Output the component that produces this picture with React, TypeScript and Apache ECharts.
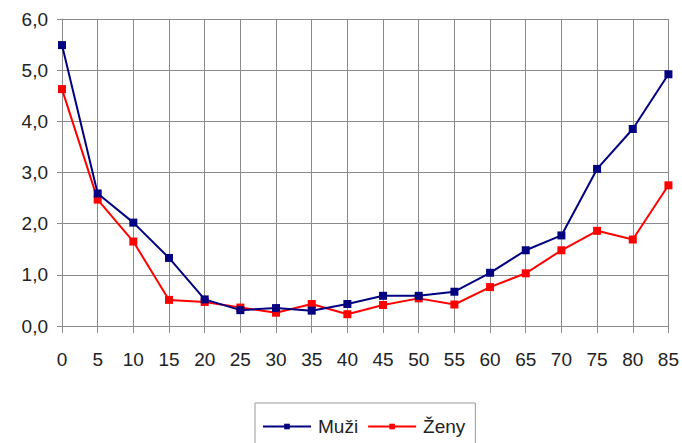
import React, { useEffect, useRef } from "react";
import * as echarts from "echarts";

const ages = ["0", "5", "10", "15", "20", "25", "30", "35", "40", "45", "50", "55", "60", "65", "70", "75", "80", "85"];
const muzi = [5.49, 2.59, 2.02, 1.33, 0.52, 0.31, 0.35, 0.3, 0.43, 0.59, 0.59, 0.67, 1.04, 1.48, 1.77, 3.07, 3.85, 4.92];
const zeny = [4.63, 2.47, 1.65, 0.51, 0.47, 0.36, 0.26, 0.43, 0.23, 0.41, 0.54, 0.42, 0.76, 1.03, 1.48, 1.86, 1.69, 2.75];

export default function App() {
  const ref = useRef<HTMLDivElement>(null);
  useEffect(() => {
    if (!ref.current) return;
    const chart = echarts.init(ref.current, null, { renderer: "svg" });
    const gridColor = "#8a8a8a";
    const font = "Liberation Sans, Arial, sans-serif";
    chart.setOption({
      animation: false,
      backgroundColor: "#ffffff",
      grid: { left: 62, right: 13, top: 19, bottom: 117, containLabel: false },
      legend: {
        left: 255,
        top: 403,
        itemWidth: 48,
        itemHeight: 7,
        itemGap: 9,
        padding: [14, 10, 12, 7],
        borderColor: "#9a9a9a",
        borderWidth: 1,
        textStyle: { fontFamily: font, fontSize: 19, color: "#222", padding: [0, 0, 0, 2] },
        data: ["Muži", "Ženy"],
      },
      xAxis: {
        type: "category",
        data: ages,
        boundaryGap: false,
        axisLine: { lineStyle: { color: gridColor, width: 1 } },
        axisTick: { show: true, length: 7, alignWithLabel: true, lineStyle: { color: gridColor } },
        splitLine: { show: true, lineStyle: { color: gridColor, width: 1 } },
        axisLabel: { fontFamily: font, fontSize: 19, color: "#222", margin: 24, interval: 0 },
      },
      yAxis: {
        type: "value",
        min: 0,
        max: 6,
        interval: 1,
        axisLine: { show: true, lineStyle: { color: gridColor, width: 1 } },
        axisTick: { show: true, length: 5, lineStyle: { color: gridColor } },
        splitLine: { show: true, lineStyle: { color: gridColor, width: 1 } },
        axisLabel: {
          fontFamily: font,
          fontSize: 19,
          color: "#222",
          margin: 14,
          formatter: (v: number) => v.toFixed(1).replace(".", ","),
        },
      },
      series: [
        {
          name: "Muži",
          type: "line",
          data: muzi,
          symbol: "rect",
          symbolSize: 8,
          lineStyle: { color: "#000080", width: 2 },
          itemStyle: { color: "#000080" },
          z: 3,
        },
        {
          name: "Ženy",
          type: "line",
          data: zeny,
          symbol: "rect",
          symbolSize: 8,
          lineStyle: { color: "#ff0000", width: 2 },
          itemStyle: { color: "#ff0000" },
          z: 2,
        },
      ],
    });
    return () => chart.dispose();
  }, []);
  return <div ref={ref} style={{ width: 682, height: 443, position: "absolute", left: 0, top: 0 }} />;
}
